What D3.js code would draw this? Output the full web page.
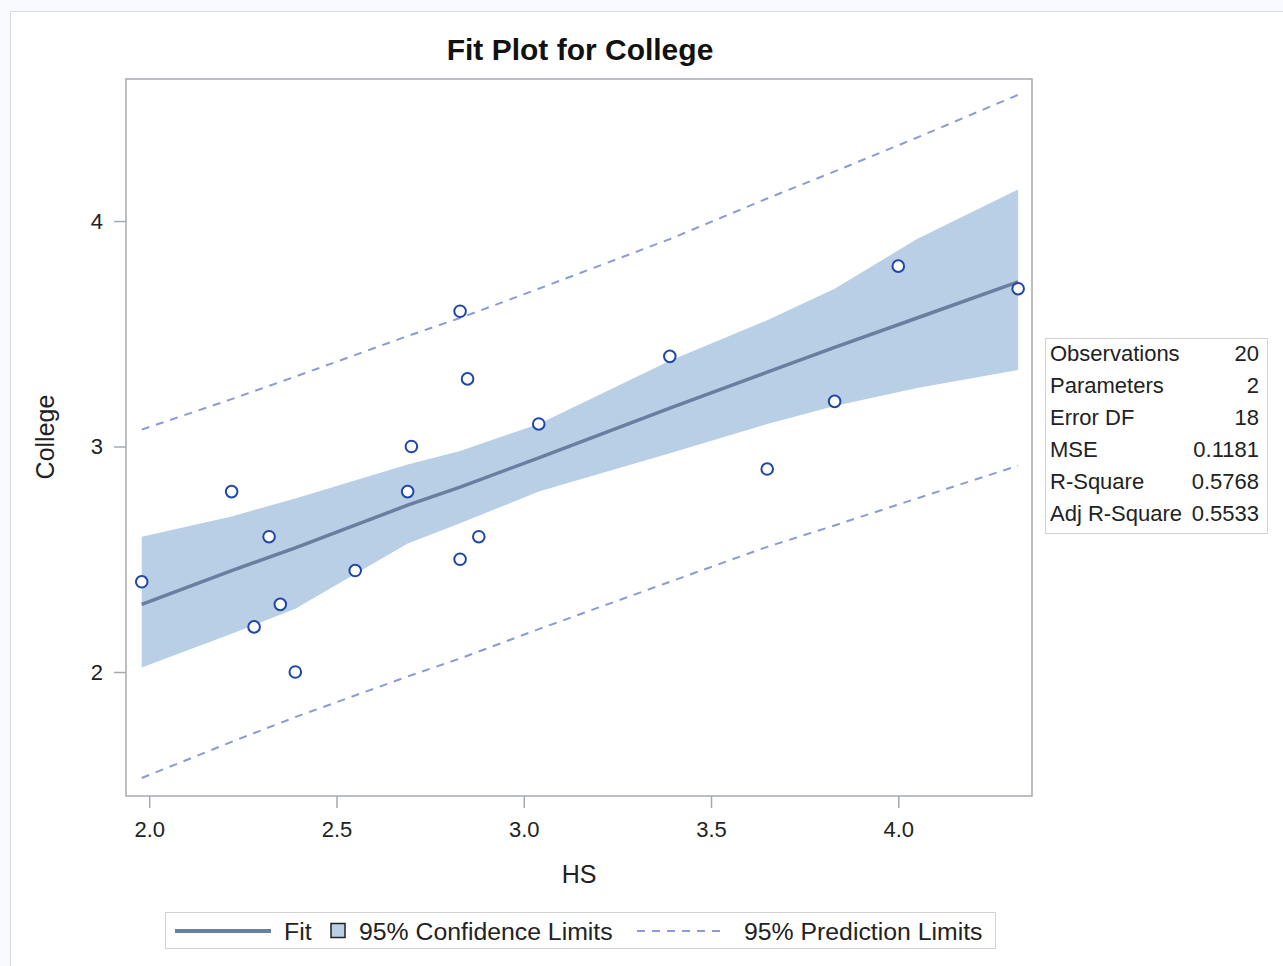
<!DOCTYPE html>
<html>
<head>
<meta charset="utf-8">
<script src="https://cdn.jsdelivr.net/npm/d3@7"></script>
<style>
  body { margin: 0; background: #f7f9fd; }
  svg { display: block; font-family: "Liberation Sans", Arial, sans-serif; }
</style>
</head>
<body>
<svg id="chart" width="1283" height="966"></svg>
<script>
// observed points (HS, College)
const hs      = [1.98, 2.22, 2.28, 2.32, 2.35, 2.39, 2.55, 2.69, 2.70, 2.83, 2.83, 2.85, 2.88, 3.04, 3.39, 3.65, 3.83, 4.00, 4.32];
const college = [2.40, 2.80, 2.20, 2.60, 2.30, 2.00, 2.45, 2.80, 3.00, 3.60, 2.50, 3.30, 2.60, 3.10, 3.40, 2.90, 3.20, 3.80, 3.70];

// fit, confidence and prediction limits read along the HS axis
const gridX   = [1.98, 2.22, 2.39, 2.69, 2.83, 3.04, 3.39, 3.65, 3.83, 4.05, 4.32];
const fit     = [2.30, 2.45, 2.55, 2.74, 2.82, 2.95, 3.17, 3.33, 3.44, 3.57, 3.73];
const upperCL = [2.60, 2.69, 2.77, 2.92, 2.98, 3.10, 3.38, 3.56, 3.70, 3.92, 4.14];
const lowerCL = [2.02, 2.17, 2.28, 2.57, 2.66, 2.80, 2.97, 3.10, 3.18, 3.26, 3.34];
const upperPL = [3.075, 3.21, 3.31, 3.49, 3.57, 3.70, 3.92, 4.10, 4.22, 4.37, 4.56];
const lowerPL = [1.53, 1.69, 1.80, 1.98, 2.06, 2.19, 2.40, 2.555, 2.65, 2.77, 2.915];

const xTicks = [2.0, 2.5, 3.0, 3.5, 4.0];
const yTicks = [2, 3, 4];

const statLabels = ["Observations", "Parameters", "Error DF", "MSE", "R-Square", "Adj R-Square"];
const statValues = ["20", "2", "18", "0.1181", "0.5768", "0.5533"];

const svg = d3.select("#chart");

// outer panel
svg.append("rect").attr("x", 10.5).attr("y", 11.5).attr("width", 1300).attr("height", 1000)
    .style("fill", "#fff").style("stroke", "#d6dae2");

const x = d3.scaleLinear().domain([1.938, 4.357]).range([126, 1032]);
const y = d3.scaleLinear().domain([1.45, 4.63]).range([796, 79]);

const rows = gridX.map((v, i) => ({ x: v, fit: fit[i], lcl: lowerCL[i], ucl: upperCL[i], lpl: lowerPL[i], upl: upperPL[i] }));

// confidence band
svg.append("path").datum(rows)
    .attr("d", d3.area().x(d => x(d.x)).y0(d => y(d.lcl)).y1(d => y(d.ucl)))
    .style("fill", "#b9cfe6");

// fit line
svg.append("path").datum(rows)
    .attr("d", d3.line().x(d => x(d.x)).y(d => y(d.fit)))
    .style("fill", "none").style("stroke", "#6a7ea0").style("stroke-width", 3.5);

// prediction limits
["lpl", "upl"].forEach(k => {
    svg.append("path").datum(rows)
        .attr("d", d3.line().x(d => x(d.x)).y(d => y(d[k])))
        .style("fill", "none").style("stroke", "#8c9bd6").style("stroke-width", 2)
        .style("stroke-dasharray", "8,7");
});

// points
svg.append("g").selectAll("circle").data(hs.map((v, i) => [v, college[i]]))
    .enter().append("circle")
    .attr("cx", d => x(d[0])).attr("cy", d => y(d[1])).attr("r", 5.8)
    .style("fill", "#fff").style("stroke", "#1f46a8").style("stroke-width", 2);

// frame
svg.append("rect").attr("x", 126).attr("y", 79).attr("width", 906).attr("height", 717)
    .style("fill", "none").style("stroke", "#a5a9ae").style("stroke-width", 1.5);

// axes
const xAxis = svg.append("g").attr("transform", "translate(0,796)")
    .call(d3.axisBottom(x).tickValues(xTicks).tickFormat(d3.format(".1f")).tickSize(12).tickPadding(13));
const yAxis = svg.append("g").attr("transform", "translate(126,0)")
    .call(d3.axisLeft(y).tickValues(yTicks).tickFormat(d3.format("d")).tickSize(12).tickPadding(11));
[xAxis, yAxis].forEach(a => {
    a.select(".domain").remove();
    a.selectAll(".tick line").style("stroke", "#a5a9ae").style("stroke-width", 1.5);
    a.selectAll(".tick text").style("font-size", "22px").style("fill", "#222")
        .style("font-family", "'Liberation Sans', Arial, sans-serif");
});

// titles
svg.append("text").attr("x", 580).attr("y", 60).attr("text-anchor", "middle")
    .style("font-size", "30px").style("font-weight", "bold").style("fill", "#111")
    .text("Fit Plot for College");
svg.append("text").attr("x", 579).attr("y", 883).attr("text-anchor", "middle")
    .style("font-size", "25px").style("fill", "#222").text("HS");
svg.append("text").attr("transform", "translate(54,437) rotate(-90)").attr("text-anchor", "middle")
    .style("font-size", "25px").style("fill", "#222").text("College");

// fit statistics table
const stats = svg.append("g");
stats.append("rect").attr("x", 1045.5).attr("y", 338.5).attr("width", 222).attr("height", 195)
    .style("fill", "#fff").style("stroke", "#cfd2d6");
statLabels.forEach((s, i) => {
    stats.append("text").attr("x", 1050).attr("y", 361 + i * 32)
        .style("font-size", "22px").style("fill", "#222").text(s);
    stats.append("text").attr("x", 1259).attr("y", 361 + i * 32).attr("text-anchor", "end")
        .style("font-size", "22px").style("fill", "#222").text(statValues[i]);
});

// legend
const lg = svg.append("g");
lg.append("rect").attr("x", 165.5).attr("y", 912.5).attr("width", 830).attr("height", 36)
    .style("fill", "#fff").style("stroke", "#cfd2d6");
lg.append("line").attr("x1", 175).attr("x2", 271).attr("y1", 931).attr("y2", 931)
    .style("stroke", "#6a7ea0").style("stroke-width", 4);
lg.append("text").attr("x", 284).attr("y", 940).style("font-size", "24.8px").style("fill", "#222").text("Fit");
lg.append("rect").attr("x", 331).attr("y", 923.5).attr("width", 14).attr("height", 14)
    .style("fill", "#b9cfe6").style("stroke", "#222").style("stroke-width", 1.5);
lg.append("text").attr("x", 359).attr("y", 940).style("font-size", "24.8px").style("fill", "#222").text("95% Confidence Limits");
lg.append("line").attr("x1", 637).attr("x2", 726).attr("y1", 931).attr("y2", 931)
    .style("stroke", "#8c9bd6").style("stroke-width", 2).style("stroke-dasharray", "8,7");
lg.append("text").attr("x", 744).attr("y", 940).style("font-size", "24.8px").style("fill", "#222").text("95% Prediction Limits");
</script>
</body>
</html>
